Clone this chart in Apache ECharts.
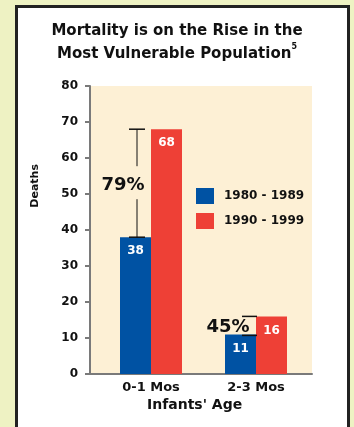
<!DOCTYPE html>
<html>
<head>
<meta charset="utf-8">
<script src="https://cdn.jsdelivr.net/npm/echarts@6/dist/echarts.min.js"></script>
<style>
  html, body { margin: 0; padding: 0; background: #eef2c3; }
  #panel {
    position: absolute; left: 15px; top: 5px; width: 335px; height: 440px;
    box-sizing: border-box; background: #fff; border: 3px solid #222;
  }
  #chart { position: absolute; left: 0; top: 0; width: 354px; height: 427px; }
</style>
</head>
<body>
<div id="panel"></div>
<div id="chart"></div>
<script>
// Infant mortality by age group, two decades, with growth brackets.
const FONT = "'DejaVu Sans', sans-serif";

const ageGroups = ['0-1 Mos', '2-3 Mos'];
const deaths80s = [38, 11];
const deaths90s = [68, 16];
const growthLabels = ['79%', '45%'];
const decades = ['1980 - 1989', '1990 - 1999'];

const BLUE = '#0052a3';
const RED = '#ee4036';
const AXIS = '#7a7a7a';

// [category index, low, high, label]
const growth = ageGroups.map((_, i) => [i, deaths80s[i], deaths90s[i], growthLabels[i]]);

function renderGrowth(params, api) {
  const idx = api.value(0);
  const lo = api.coord([idx, api.value(1)]);
  const hi = api.coord([idx, api.value(2)]);
  const cx = lo[0];
  const x = cx - 14;
  const midY = (lo[1] + hi[1]) / 2;
  const line = { stroke: '#111', lineWidth: 1.5 };
  const children = [];
  if (lo[1] - hi[1] > 40) {
    // tall bracket: stem broken around the label, centred caps
    children.push(
      { type: 'line', shape: { x1: x - 8, y1: hi[1], x2: x + 8, y2: hi[1] }, style: line },
      { type: 'line', shape: { x1: x - 8, y1: lo[1], x2: x + 8, y2: lo[1] }, style: line },
      { type: 'line', shape: { x1: x, y1: hi[1], x2: x, y2: midY - 17 }, style: { stroke: '#111', lineWidth: 1 } },
      { type: 'line', shape: { x1: x, y1: midY + 16, x2: x, y2: lo[1] }, style: { stroke: '#111', lineWidth: 1 } }
    );
  } else {
    children.push(
      { type: 'line', shape: { x1: x, y1: hi[1], x2: cx + 1, y2: hi[1] }, style: line },
      { type: 'line', shape: { x1: x, y1: lo[1] + 1, x2: cx + 1, y2: lo[1] + 1 }, style: line }
    );
  }
  children.push({
    type: 'text', z2: 10,
    style: {
      text: api.value(3), x: cx - 28, y: midY + 2,
      align: 'center', verticalAlign: 'middle',
      font: "bold 18px 'DejaVu Sans', sans-serif", fill: '#111'
    }
  });
  return { type: 'group', children };
}

const chart = echarts.init(document.getElementById('chart'));

chart.setOption({
  animation: false,
  textStyle: { fontFamily: FONT },
  title: {
    text: 'Mortality is on the Rise in the\nMost Vulnerable Population{s|5}',
    left: 'center', top: 20, padding: 0,
    textStyle: {
      fontFamily: FONT, fontSize: 15, fontWeight: 'bold', color: '#111', lineHeight: 23,
      rich: { s: { fontSize: 8, fontWeight: 'bold', verticalAlign: 'top', lineHeight: 14, color: '#111' } }
    }
  },
  legend: {
    orient: 'vertical', left: 191, top: 183,
    itemWidth: 18, itemHeight: 16, itemGap: 9,
    icon: 'rect', data: decades,
    textStyle: { fontFamily: FONT, fontSize: 12, fontWeight: 'bold', color: '#111', padding: [0, 0, 0, 5] }
  },
  graphic: [
    {
      type: 'text', left: 30, top: 164, rotation: Math.PI / 2,
      style: { text: 'Deaths', font: "bold 11px 'DejaVu Sans', sans-serif", fill: '#111' }
    },
    {
      type: 'text', left: 147, top: 398,
      style: { text: "Infants' Age", font: "bold 14px 'DejaVu Sans', sans-serif", fill: '#111' }
    }
  ],
  grid: [
    { left: 90, right: 42, top: 86, bottom: 53, show: true, backgroundColor: '#fdf0d5', borderWidth: 0 },
    { left: 98.5, right: 45.5, top: 86, bottom: 53 }
  ],
  xAxis: [
    {
      gridIndex: 0, type: 'value', min: 0, max: 1,
      axisLine: { show: true, lineStyle: { color: AXIS, width: 2 } },
      axisTick: { show: false }, axisLabel: { show: false }, splitLine: { show: false }
    },
    {
      gridIndex: 1, type: 'category', data: ageGroups,
      axisLine: { show: false }, axisTick: { show: false },
      axisLabel: { margin: 7, fontFamily: FONT, fontSize: 13, fontWeight: 'bold', color: '#111' }
    }
  ],
  yAxis: [
    {
      gridIndex: 0, type: 'value', min: 0, max: 80, interval: 10,
      axisLine: { show: true, lineStyle: { color: AXIS, width: 2 } },
      axisTick: { show: true, length: 5, lineStyle: { color: AXIS, width: 2 } },
      axisLabel: { margin: 12, fontFamily: FONT, fontSize: 12, fontWeight: 'bold', color: '#111' },
      splitLine: { show: false }
    },
    { gridIndex: 1, type: 'value', min: 0, max: 80, show: false, splitLine: { show: false } }
  ],
  series: [
    {
      name: decades[0], type: 'bar', xAxisIndex: 1, yAxisIndex: 1,
      data: deaths80s, barWidth: 31, barGap: '0%',
      itemStyle: { color: BLUE },
      label: { show: true, position: 'insideTop', distance: 8, color: '#fff', fontFamily: FONT, fontSize: 12, fontWeight: 'bold' }
    },
    {
      name: decades[1], type: 'bar', xAxisIndex: 1, yAxisIndex: 1,
      data: deaths90s, barWidth: 31, barGap: '0%',
      itemStyle: { color: RED },
      label: { show: true, position: 'insideTop', distance: 8, color: '#fff', fontFamily: FONT, fontSize: 12, fontWeight: 'bold' }
    },
    {
      type: 'custom', xAxisIndex: 1, yAxisIndex: 1, z: 5,
      data: growth, renderItem: renderGrowth, silent: true
    }
  ]
});
</script>
</body>
</html>
